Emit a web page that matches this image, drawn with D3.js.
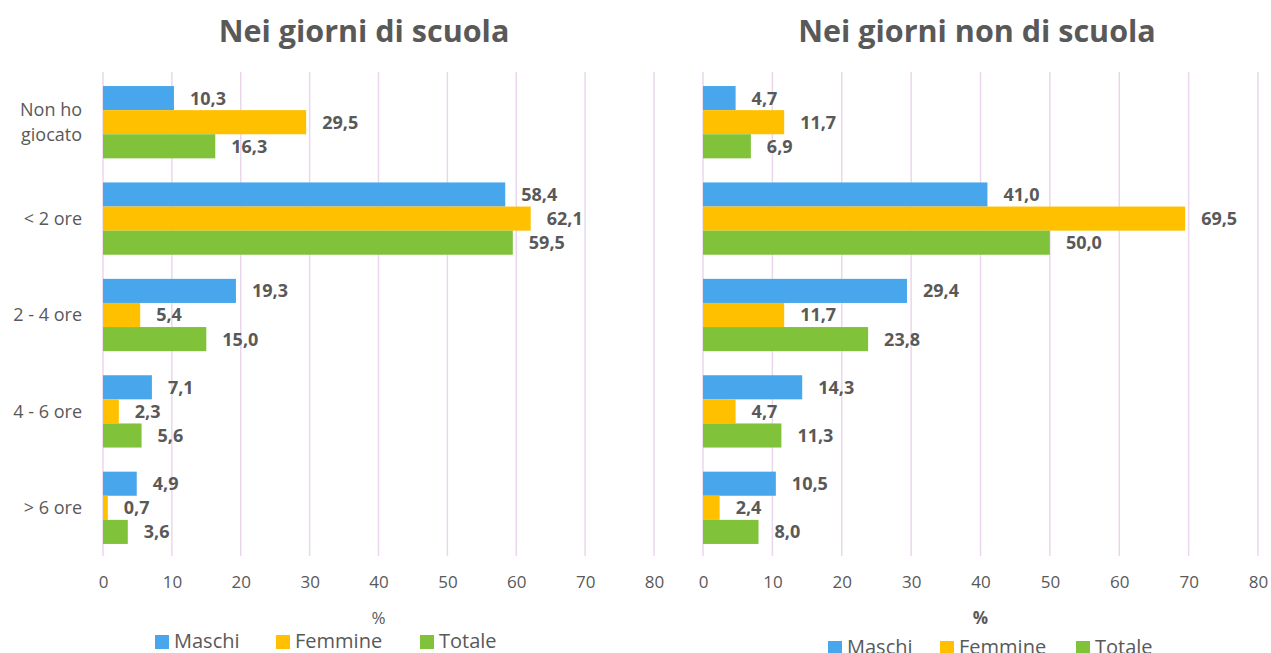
<!DOCTYPE html>
<html>
<head>
<meta charset="utf-8">
<style>
body { margin: 0; background: #fff; }
svg text { font-family: "Open Sans", sans-serif; fill: #595959; }
</style>
</head>
<body>
<svg width="1271" height="653"></svg>
<script src="https://d3js.org/d3.v7.min.js"></script>
<script>

var categories = ["Non ho giocato", "< 2 ore", "2 - 4 ore", "4 - 6 ore", "> 6 ore"];
var series = ["Maschi", "Femmine", "Totale"];
var colors = ["#47A6EC", "#FFC000", "#80C33B"];
var ticks = [0, 10, 20, 30, 40, 50, 60, 70, 80];

var scuolaMaschi = [10.3, 58.4, 19.3, 7.1, 4.9];
var scuolaFemmine = [29.5, 62.1, 5.4, 2.3, 0.7];
var scuolaTotale = [16.3, 59.5, 15.0, 5.6, 3.6];

var nonScuolaMaschi = [4.7, 41.0, 29.4, 14.3, 10.5];
var nonScuolaFemmine = [11.7, 69.5, 11.7, 4.7, 2.4];
var nonScuolaTotale = [6.9, 50.0, 23.8, 11.3, 8.0];

var svg = d3.select("svg");
var fmt = function(v) { return d3.format(".1f")(v).replace(".", ","); };

function drawPanel(opt) {
  var g = svg.append("g");
  var x = d3.scaleLinear().domain([0, 80]).range([opt.x0, opt.x1]);
  var y = d3.scaleBand().domain(categories).range([74, 556])
      .paddingInner(0.25).paddingOuter(0.125);
  var ys = d3.scaleBand().domain(series).range([0, y.bandwidth()]);

  // gridlines
  g.selectAll(".grid").data(ticks).enter().append("line")
      .attr("x1", function(d) { return x(d); })
      .attr("x2", function(d) { return x(d); })
      .attr("y1", 72).attr("y2", 556)
      .attr("stroke", "#EAD7EC").attr("stroke-width", 1.5);

  // tick labels
  var ax = g.append("g").attr("transform", "translate(0,576)")
      .call(d3.axisBottom(x).tickValues(ticks).tickSize(0).tickPadding(0));
  ax.select(".domain").remove();
  ax.selectAll("text").attr("font-size", 17).attr("dy", "0.71em")
      .style("font-family", "Open Sans").attr("fill", "#595959");

  var rows = [];
  opt.values.forEach(function(arr, s) {
    arr.forEach(function(v, i) {
      rows.push({cat: categories[i], ser: series[s], v: v, c: colors[s]});
    });
  });

  g.selectAll(".bar").data(rows).enter().append("rect")
      .attr("x", x(0))
      .attr("y", function(d) { return y(d.cat) + ys(d.ser); })
      .attr("width", function(d) { return x(d.v) - x(0); })
      .attr("height", ys.bandwidth())
      .attr("fill", function(d) { return d.c; });

  g.selectAll(".lbl").data(rows).enter().append("text")
      .attr("x", function(d) { return x(d.v) + 16; })
      .attr("y", function(d) { return y(d.cat) + ys(d.ser) + ys.bandwidth() / 2; })
      .attr("dy", "0.36em")
      .attr("font-size", 18).attr("font-weight", "bold")
      .text(function(d) { return fmt(d.v); });

  svg.append("text").attr("x", opt.titleX).attr("y", 42)
      .attr("text-anchor", "middle").attr("font-size", 30.5).attr("font-weight", "bold")
      .text(opt.title);

  svg.append("text").attr("x", (opt.x0 + opt.x1) / 2).attr("y", 624)
      .attr("text-anchor", "middle").attr("font-size", 17)
      .attr("font-weight", opt.pctBold ? "bold" : "normal")
      .text("%");

  if (opt.showCats) {
    categories.forEach(function(c) {
      var words = c === "Non ho giocato" ? ["Non ho", "giocato"] : [c];
      var cy = y(c) + y.bandwidth() / 2;
      words.forEach(function(w, k) {
        svg.append("text").attr("x", 82)
            .attr("y", cy + (k - (words.length - 1) / 2) * 25)
            .attr("dy", "0.36em").attr("text-anchor", "end").attr("font-size", 18)
            .text(w);
      });
    });
  }

  var lg = svg.append("g");
  series.forEach(function(s, i) {
    lg.append("rect").attr("x", opt.legX[i]).attr("y", opt.legY - 6)
        .attr("width", 14).attr("height", 14).attr("fill", colors[i]);
    lg.append("text").attr("x", opt.legX[i] + 19).attr("y", opt.legY)
        .attr("dy", "0.36em").attr("font-size", 20).text(s);
  });
}

drawPanel({
  x0: 103, x1: 654, title: "Nei giorni di scuola", titleX: 364,
  values: [scuolaMaschi, scuolaFemmine, scuolaTotale],
  showCats: true, pctBold: false,
  legX: [155, 276, 420], legY: 641
});

drawPanel({
  x0: 703, x1: 1258, title: "Nei giorni non di scuola", titleX: 977,
  values: [nonScuolaMaschi, nonScuolaFemmine, nonScuolaTotale],
  showCats: false, pctBold: true,
  legX: [828, 940, 1076], legY: 647
});

</script>
</body>
</html>
